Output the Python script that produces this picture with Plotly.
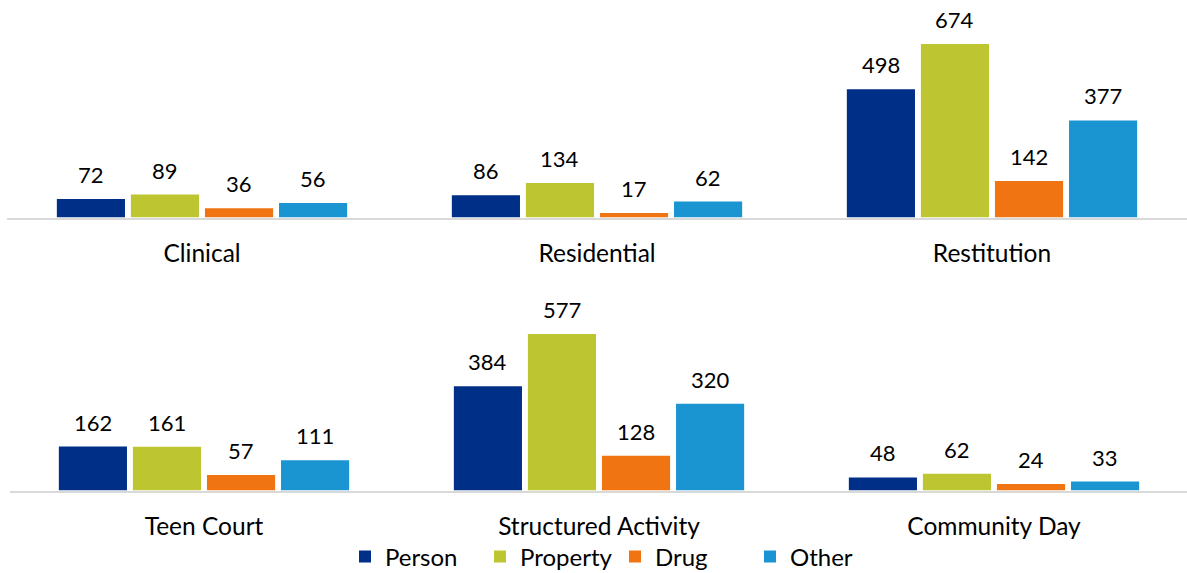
import plotly.graph_objects as go

categories_top = ["Clinical", "Residential", "Restitution"]
categories_bottom = ["Teen Court", "Structured Activity", "Community Day"]
series_names = ["Person", "Property", "Drug", "Other"]
person = [72, 86, 498, 162, 384, 48]
property_ = [89, 134, 674, 161, 577, 62]
drug = [36, 17, 142, 57, 128, 24]
other = [56, 62, 377, 111, 320, 33]

colors = ["#002F87", "#BDC530", "#F07512", "#1A95D2"]
W, H = 1187, 573
FONT = "Lato"
values = [person, property_, drug, other]

fig = go.Figure()
bargap = 0.25
cat_px = 395
slot = cat_px * (1 - bargap) / 4

for i, (name, vals) in enumerate(zip(series_names, values)):
    fig.add_trace(go.Bar(x=categories_top, y=vals[:3], name=name, marker_color=colors[i],
                         marker_line_width=0, xaxis="x", yaxis="y", legendgroup=name,
                         showlegend=True))
    fig.add_trace(go.Bar(x=categories_bottom, y=vals[3:], name=name, marker_color=colors[i],
                         marker_line_width=0, xaxis="x2", yaxis="y2", legendgroup=name,
                         showlegend=False))
    for j in range(3):
        fig.add_annotation(x=categories_top[j], y=vals[j], xref="x", yref="y",
                           text=str(vals[j]), showarrow=False, yanchor="bottom",
                           xshift=(i - 1.5) * slot, yshift=9,
                           font=dict(family=FONT, size=22, color="#000000"))
        fig.add_annotation(x=categories_bottom[j], y=vals[3 + j], xref="x2", yref="y2",
                           text=str(vals[3 + j]), showarrow=False, yanchor="bottom",
                           xshift=(i - 1.5) * slot, yshift=9,
                           font=dict(family=FONT, size=22, color="#000000"))

axis_common = dict(showgrid=False, zeroline=False, showline=True, linecolor="#D9D9D9",
                   linewidth=1.5, ticks="", tickfont=dict(family=FONT, size=24.5, color="#000000"),
                   ticklabelstandoff=13, fixedrange=True, automargin=False)

s1 = 2.5 / cat_px
s2 = 3.5 / cat_px
fig.update_layout(
    width=W, height=H,
    margin=dict(l=0, r=0, t=0, b=0, autoexpand=False),
    paper_bgcolor="white", plot_bgcolor="white",
    barmode="group", bargap=bargap, bargroupgap=0.08,
    xaxis=dict(domain=[7 / W, 1], range=[-0.5 + s1, -0.5 + s1 + (W - 7) / cat_px], anchor="y", **axis_common),
    xaxis2=dict(domain=[10 / W, 1], range=[-0.5 + s2, -0.5 + s2 + (W - 10) / cat_px], anchor="y2", **axis_common),
    yaxis=dict(domain=[(H - 217.5) / H, (H - 11.5) / H], range=[0, 800], visible=False),
    yaxis2=dict(domain=[(H - 490.5) / H, (H - 300.5) / H], range=[0, 700], visible=False),
    legend=dict(orientation="h", x=345 / W, xanchor="left", y=16 / H, yanchor="middle",
                font=dict(family=FONT, size=24, color="#000000"), itemwidth=30,
                entrywidth=90, traceorder="normal", bgcolor="rgba(0,0,0,0)"),
    font=dict(family=FONT),
)

fig.write_html("out.html")
